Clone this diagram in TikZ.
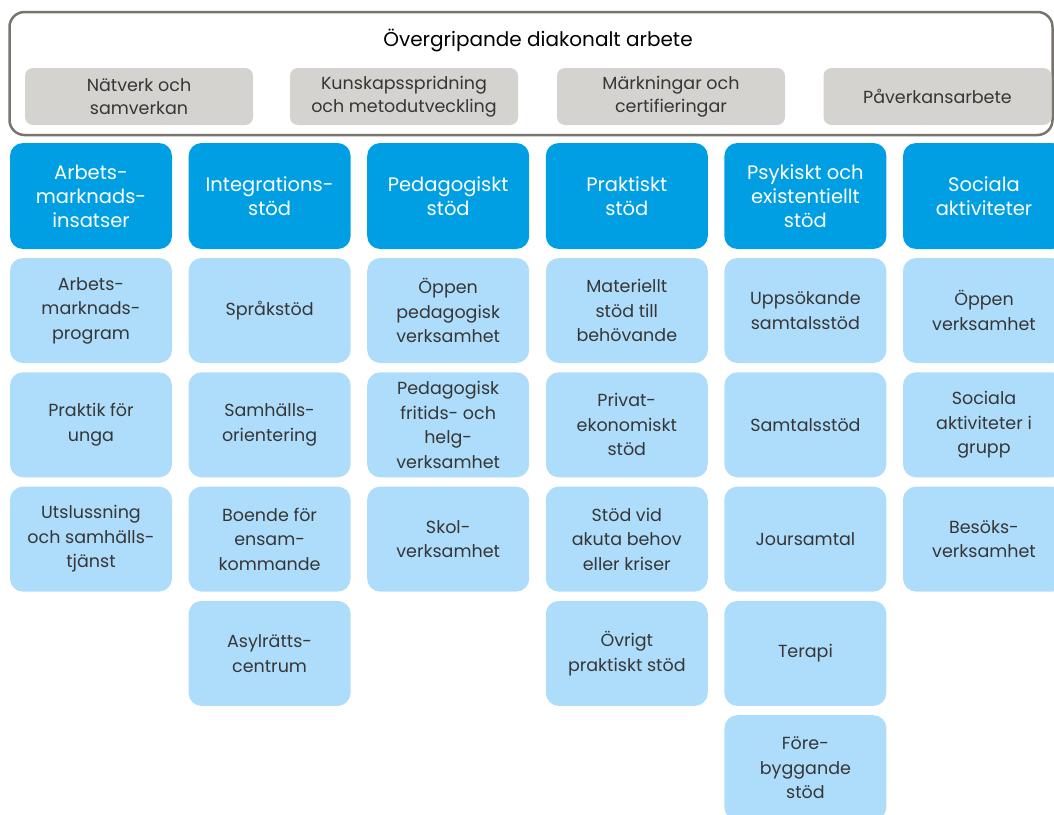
\documentclass[tikz,border=0pt]{standalone}
\usepackage{fontspec}
\setmainfont{Poppins}
\definecolor{hdrblue}{HTML}{009FE3}
\definecolor{lightblue}{HTML}{AEDDFB}
\definecolor{graybox}{HTML}{D5D3CF}
\definecolor{frame}{HTML}{77756E}
\definecolor{txt}{HTML}{363636}
\tikzset{
  hdr/.style={rectangle, rounded corners=13pt, fill=hdrblue, text=white,
    minimum width=162pt, minimum height=106pt, inner sep=0pt, align=center,
    font=\fontsize{19.5}{24}\selectfont},
  item/.style={rectangle, rounded corners=13pt, fill=lightblue, text=txt,
    minimum width=162pt, minimum height=105pt, inner sep=0pt, align=center,
    font=\fontsize{17.5}{24.5}\selectfont},
  gbox/.style={rectangle, rounded corners=8pt, fill=graybox, text=txt,
    minimum width=228pt, minimum height=57pt, inner sep=0pt, align=center,
    font=\fontsize{17.5}{23}\selectfont},
  outer/.style={rectangle, rounded corners=15pt, draw=frame, line width=2.5pt,
    minimum width=1043pt, minimum height=123pt, inner sep=0pt},
  title/.style={text=black, font=\fontsize{20}{22}\selectfont, inner sep=0pt}
}
\begin{document}
\begin{tikzpicture}[x=1pt,y=-1pt]
\useasboundingbox (0,0) rectangle (1054,814);
\clip (0,0) rectangle (1054,814);
% outer frame
\node[outer] (top) at (531,73.5) {};
\node[title] (ttl) at (538,40) {Övergripande diakonalt arbete};
\node[gbox] (g1) at (139,96.5) {Nätverk och\\samverkan};
\node[gbox] (g2) at (404,96.5) {Kunskapsspridning\\och metodutveckling};
\node[gbox] (g3) at (671,96.5) {Märkningar och\\certifieringar};
\node[gbox] (g4) at (937.5,96.5) {Påverkansarbete};
% headers
\node[hdr] (h1) at (91,196) {Arbets-\\marknads-\\insatser};
\node[hdr] (h2) at (269.6,196) {Integrations-\\stöd};
\node[hdr] (h3) at (448.2,196) {Pedagogiskt\\stöd};
\node[hdr] (h4) at (626.8,196) {Praktiskt\\stöd};
\node[hdr] (h5) at (805.4,196) {Psykiskt och\\existentiellt\\stöd};
\node[hdr] (h6) at (984,196) {Sociala\\aktiviteter};
% column 1
\node[item] (a1) at (91,310.5) {Arbets-\\marknads-\\program};
\node[item] (a2) at (91,424.8) {Praktik för\\unga};
\node[item] (a3) at (91,539.1) {Utslussning\\och samhälls-\\tjänst};
% column 2
\node[item] (b1) at (269.6,310.5) {Språkstöd};
\node[item] (b2) at (269.6,424.8) {Samhälls-\\orientering};
\node[item] (b3) at (269.6,539.1) {Boende för\\ensam-\\kommande};
\node[item] (b4) at (269.6,653.4) {Asylrätts-\\centrum};
% column 3
\node[item] (c1) at (448.2,310.5) {Öppen\\pedagogisk\\verksamhet};
\node[item] (c2) at (448.2,424.8) {Pedagogisk\\fritids- och\\helg-\\verksamhet};
\node[item] (c3) at (448.2,539.1) {Skol-\\verksamhet};
% column 4
\node[item] (d1) at (626.8,310.5) {Materiellt\\stöd till\\behövande};
\node[item] (d2) at (626.8,424.8) {Privat-\\ekonomiskt\\stöd};
\node[item] (d3) at (626.8,539.1) {Stöd vid\\akuta behov\\eller kriser};
\node[item] (d4) at (626.8,653.4) {Övrigt\\praktiskt stöd};
% column 5
\node[item] (e1) at (805.4,310.5) {Uppsökande\\samtalsstöd};
\node[item] (e2) at (805.4,424.8) {Samtalsstöd};
\node[item] (e3) at (805.4,539.1) {Joursamtal};
\node[item] (e4) at (805.4,653.4) {Terapi};
\node[item] (e5) at (805.4,767.7) {Före-\\byggande\\stöd};
% column 6
\node[item] (f1) at (984,310.5) {Öppen\\verksamhet};
\node[item] (f2) at (984,424.8) {Sociala\\aktiviteter i\\grupp};
\node[item] (f3) at (984,539.1) {Besöks-\\verksamhet};
\end{tikzpicture}
\end{document}
